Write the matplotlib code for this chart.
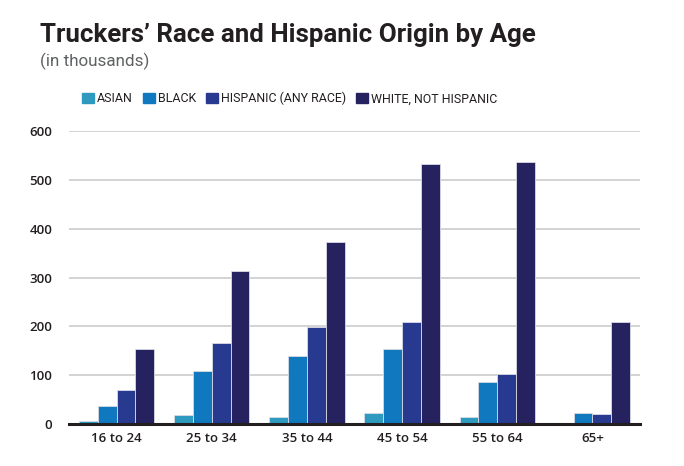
import numpy as np
import matplotlib
matplotlib.use("Agg")
import matplotlib.pyplot as plt
from matplotlib.patches import Rectangle

ages = ["16 to 24", "25 to 34", "35 to 44", "45 to 54", "55 to 64", "65+"]
series = ["ASIAN", "BLACK", "HISPANIC (ANY RACE)", "WHITE, NOT HISPANIC"]
asian = [7, 18, 15, 22, 15, 3]
black = [36, 108, 139, 153, 87, 22]
hispanic = [69, 167, 198, 210, 103, 20]
white = [153, 313, 374, 533, 537, 210]
colors = ["#2E9AC0", "#0F78BF", "#283A90", "#26215F"]

plt.rcParams['font.family'] = ['Open Sans', 'DejaVu Sans']
NARROW = ['Roboto', 'DejaVu Sans']


def fit_width(fig, txt, target_px):
    # shrink/grow a text until it spans target_px
    for _ in range(3):
        fig.canvas.draw()
        w = txt.get_window_extent().width
        txt.set_fontsize(txt.get_fontsize() * target_px / w)


fig = plt.figure(figsize=(6.84, 4.66), dpi=100)
ax = fig.add_axes([69 / 684, (466 - 424) / 466, (640 - 69) / 684, (424 - 131.3) / 466])

x = np.arange(len(ages))
width = 0.198
values = [asian, black, hispanic, white]
for i, (vals, col) in enumerate(zip(values, colors)):
    ax.bar(x + (i - 1.5) * width, vals, width, color=col,
           edgecolor="#d8dbe6", linewidth=0.6, zorder=3)

ax.set_xlim(-0.5, 5.5)
ax.set_ylim(0, 600)
ax.set_yticks(range(0, 601, 100))
ax.grid(axis="y", color="#cccccc", linewidth=1.2, zorder=0)
for s in ["top", "right", "left"]:
    ax.spines[s].set_visible(False)
ax.spines["bottom"].set_color("#231f20")
ax.spines["bottom"].set_linewidth(2.2)
ax.spines["bottom"].set_zorder(4)
ax.tick_params(axis="both", length=0, labelsize=9.5, labelcolor="#231f20")
ax.tick_params(axis="y", pad=12)
ax.tick_params(axis="x", pad=6)
ax.set_xticks(x)
ax.set_xticklabels(ages)
for lbl in ax.get_xticklabels() + ax.get_yticklabels():
    lbl.set_fontweight("semibold")

title = fig.text(40 / 684, 1 - 42 / 466, "Truckers\u2019 Race and Hispanic Origin by Age",
                 fontsize=19, fontweight="bold", color="#231f20", va="baseline",
                 family=NARROW)
fit_width(fig, title, 495)
sub = fig.text(40 / 684, 1 - 66 / 466, "(in thousands)", fontsize=13,
               color="#5f6062", va="baseline", family=NARROW)
fit_width(fig, sub, 109)

# legend row
lx = 82
for name, col in zip(series, colors):
    fig.patches.append(Rectangle((lx / 684, 1 - 102.5 / 466), 12 / 684, 10 / 466,
                                 transform=fig.transFigure, color=col))
    t = fig.text((lx + 15) / 684, 1 - 102.5 / 466, name, fontsize=8.9,
                 color="#231f20", va="baseline", family=NARROW)
    fig.canvas.draw()
    bb = t.get_window_extent()
    lx = bb.x1 + 10

fig.savefig("out.png", dpi=100)
